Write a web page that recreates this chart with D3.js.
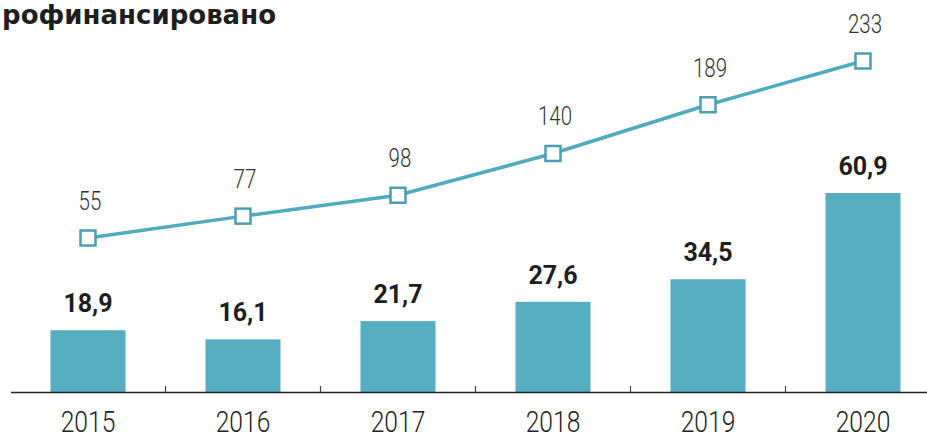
<!DOCTYPE html>
<html><head><meta charset="utf-8">
<script src="https://cdn.jsdelivr.net/npm/d3@7"></script>
<style>
html,body{margin:0;padding:0;background:#fff;}
svg{display:block;}
</style></head>
<body>
<svg id="c" width="927" height="436"></svg>
<script>
const years = ["2015","2016","2017","2018","2019","2020"];
const barValues = [18.9, 16.1, 21.7, 27.6, 34.5, 60.9];
const barLabels = ["18,9","16,1","21,7","27,6","34,5","60,9"];
const lineValues = [55, 77, 98, 140, 189, 233];
const title = "Профинансировано";

const svg = d3.select("#c");
const teal = "#56aec0";
const lineCol = "#4fabbd";
const light = "Roboto, sans-serif";

const x = d3.scaleBand().domain(years).range([10.5, 940.5]).paddingInner(0.516).paddingOuter(0.258);
const baseY = 392;
const yBar = d3.scaleLinear().domain([0, 60.9]).range([baseY, 193]);
const yLine = d3.scaleLinear().domain([0, 233]).range([292.7, 61]);

// title (reference shows it clipped at the left edge)
svg.append("text").attr("x", 276).attr("y", 24).attr("text-anchor", "end")
  .attr("font-family", "'DejaVu Sans', sans-serif").attr("font-weight", 700).attr("font-size", 26)
  .attr("fill", "#1e1e1e").text(title);

// bars
svg.selectAll("rect.bar").data(years).join("rect").attr("class","bar")
  .attr("x", d => x(d)).attr("width", x.bandwidth())
  .attr("y", (d,i) => yBar(barValues[i])).attr("height", (d,i) => baseY - yBar(barValues[i]))
  .attr("fill", teal);

// axis
const axis = d3.axisBottom(x).tickSize(0).tickFormat(d => d);
const ag = svg.append("g").attr("transform", `translate(0,${baseY})`).call(axis);
ag.select(".domain").attr("d", "M11,0.5H927").attr("stroke", "#222").attr("stroke-width", 1.5);
ag.selectAll(".tick text").attr("font-family", light).attr("font-weight", 300).attr("font-size", 30)
  .attr("fill", "#222").attr("dy", 0).attr("y", 0)
  .attr("transform", "translate(0,40) scale(0.82,1)");
// separator ticks between categories
const sep = years.slice(1).map((d,i) => (x(years[i]) + x.bandwidth() + x(d)) / 2);
svg.selectAll("line.sep").data(sep).join("line").attr("class","sep")
  .attr("x1", d => d).attr("x2", d => d).attr("y1", baseY - 6).attr("y2", baseY)
  .attr("stroke", "#444").attr("stroke-width", 1.2);

// bar labels
svg.selectAll("text.bl").data(years).join("text").attr("class","bl")
  .attr("x", d => x(d) + x.bandwidth()/2).attr("y", (d,i) => yBar(barValues[i]) - 18)
  .attr("text-anchor","middle").attr("font-family","Roboto, sans-serif").attr("font-weight",700)
  .attr("font-size", 25).attr("fill","#1e1e1e").text((d,i) => barLabels[i]);

// line
const cx = d => x(d) + x.bandwidth()/2;
const line = d3.line().x((d,i) => cx(years[i])).y(d => yLine(d));
svg.append("path").datum(lineValues).attr("d", line).attr("fill","none")
  .attr("stroke", lineCol).attr("stroke-width", 3.5);
svg.selectAll("rect.mk").data(lineValues).join("rect").attr("class","mk")
  .attr("x", (d,i) => cx(years[i]) - 7.5).attr("y", d => yLine(d) - 7.5)
  .attr("width", 15).attr("height", 15).attr("fill","#fff")
  .attr("stroke", "#4a9fb2").attr("stroke-width", 2.5);
svg.selectAll("text.ll").data(lineValues).join("text").attr("class","ll")
  .attr("transform", (d,i) => `translate(${cx(years[i]) + 2},${yLine(d) - 28}) scale(0.82,1)`)
  .attr("text-anchor","middle").attr("font-family", light).attr("font-weight", 300).attr("font-size", 25)
  .attr("fill","#333").text(d => d);
</script>
</body></html>
